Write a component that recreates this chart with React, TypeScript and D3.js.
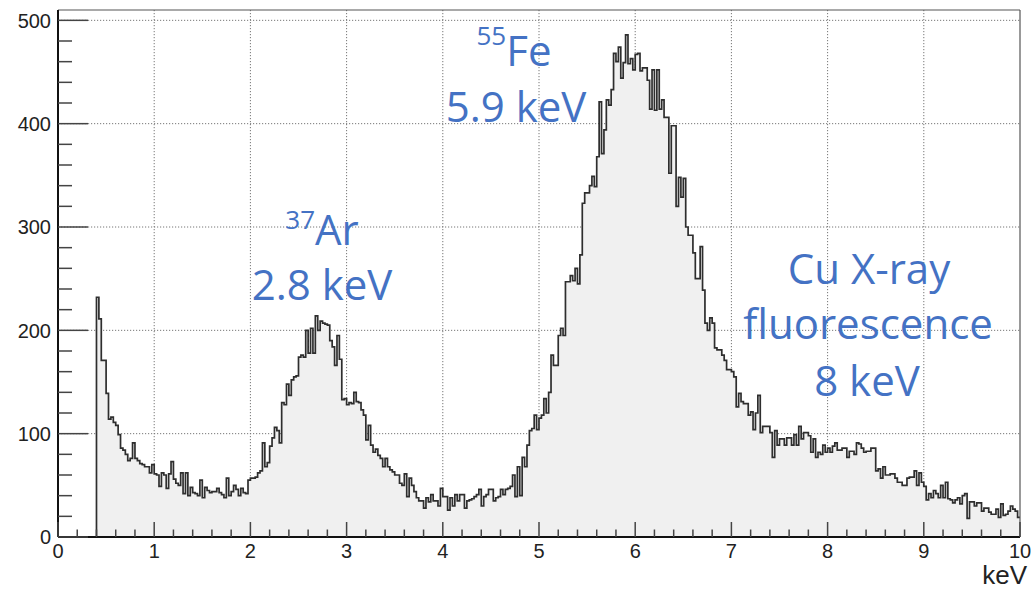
import React from 'react';
import * as d3 from 'd3';

// Histogram: bins of 0.025 keV starting at 0.4 keV
const binStart = 0.4;
const binWidth = 0.025;

const counts04to1 = [232, 211, 171, 171, 139, 114, 116, 111, 108, 99, 86, 84, 80, 74, 76, 91, 76, 74, 71, 70, 68, 68, 62, 70];
const counts1to2 = [61, 60, 49, 62, 60, 47, 61, 73, 56, 52, 50, 62, 42, 62, 40, 48, 43, 42, 40, 55, 38, 48, 45, 43, 44, 44, 47, 43, 41, 38, 57, 40, 44, 50, 46, 40, 47, 43, 42, 55];
const counts2to3 = [57, 57, 58, 62, 64, 91, 68, 72, 88, 96, 106, 103, 91, 130, 128, 148, 137, 152, 155, 156, 174, 176, 174, 200, 178, 202, 178, 214, 200, 209, 207, 206, 205, 190, 184, 166, 195, 172, 133, 134];
const counts3to4 = [128, 130, 129, 140, 131, 130, 123, 118, 94, 108, 89, 82, 85, 79, 76, 68, 76, 68, 65, 63, 60, 60, 52, 50, 61, 39, 57, 50, 44, 38, 35, 35, 28, 38, 34, 41, 35, 35, 30, 47];
const counts4to5 = [39, 39, 26, 38, 30, 41, 35, 41, 41, 28, 35, 36, 37, 39, 41, 46, 30, 39, 41, 46, 46, 35, 38, 39, 46, 41, 46, 47, 49, 60, 39, 68, 40, 77, 68, 89, 103, 105, 118, 104];
const counts5to6 = [115, 118, 134, 120, 140, 176, 166, 166, 195, 202, 195, 247, 247, 253, 248, 260, 245, 273, 323, 333, 333, 340, 349, 339, 368, 421, 371, 394, 423, 418, 433, 468, 460, 474, 444, 459, 486, 458, 463, 452];
const counts6to7 = [467, 468, 451, 454, 454, 442, 414, 452, 413, 452, 414, 423, 406, 406, 352, 398, 398, 320, 348, 329, 347, 300, 292, 292, 275, 250, 250, 281, 239, 207, 200, 212, 207, 183, 181, 181, 176, 171, 162, 162];
const counts7to8 = [160, 155, 126, 139, 131, 129, 129, 118, 121, 104, 120, 137, 101, 107, 107, 107, 101, 77, 103, 89, 95, 95, 89, 96, 96, 89, 99, 89, 107, 95, 101, 101, 98, 82, 95, 77, 82, 80, 89, 82];
const counts8to9 = [86, 82, 88, 91, 84, 84, 86, 86, 77, 83, 83, 80, 91, 90, 86, 82, 83, 83, 86, 86, 64, 66, 57, 68, 60, 60, 61, 61, 57, 53, 53, 50, 50, 57, 58, 58, 64, 50, 62, 53];
const counts9to10 = [49, 36, 42, 38, 45, 42, 38, 50, 38, 53, 37, 36, 33, 36, 38, 32, 40, 42, 18, 34, 34, 30, 33, 33, 25, 28, 28, 24, 22, 22, 27, 19, 32, 21, 22, 25, 30, 27, 25, 19];

const xMajorTicks = [0, 1, 2, 3, 4, 5, 6, 7, 8, 9, 10];
const yMajorTicks = [0, 100, 200, 300, 400, 500];
const xTitle = 'keV';

const blue = '#4472C4';
const annFont = '"Open Sans", "Noto Sans", sans-serif';
const axisFont = '"Liberation Sans", Arial, sans-serif';

export default function App() {
  const W = 1033;
  const H = 589;
  const x = d3.scaleLinear().domain([0, 10]).range([58, 1020]);
  const y = d3.scaleLinear().domain([0, 510]).range([537, 10]);

  const counts = [
    ...counts04to1, ...counts1to2, ...counts2to3, ...counts3to4, ...counts4to5,
    ...counts5to6, ...counts6to7, ...counts7to8, ...counts8to9, ...counts9to10,
  ];
  const pts: [number, number][] = counts.map((c, i) => [binStart + i * binWidth, c]);
  pts.push([binStart + counts.length * binWidth, counts[counts.length - 1]]);
  const linePts: [number, number][] = [[binStart, 0], ...pts];

  const line = d3.line<[number, number]>()
    .x(d => x(d[0]))
    .y(d => y(d[1]))
    .curve(d3.curveStepAfter);
  const area = d3.area<[number, number]>()
    .x(d => x(d[0]))
    .y0(y(0))
    .y1(d => y(d[1]))
    .curve(d3.curveStepAfter);

  const xMinor = d3.range(0, 10.001, 0.2).filter(v => Math.abs(v - Math.round(v)) > 1e-6);
  const yMinor = d3.range(0, 510, 20).filter(v => v % 100 !== 0);

  const [x0, x1] = x.range();
  const [yb, yt] = y.range();

  return (
    <svg width={W} height={H} style={{ position: 'absolute', left: 0, top: 0, background: '#fff' }}>
      {/* grid */}
      <g stroke="#777" strokeWidth={1} strokeDasharray="1.2,1.8">
        {xMajorTicks.slice(1, -1).map(t => (
          <line key={'gx' + t} x1={x(t)} x2={x(t)} y1={yt} y2={yb} />
        ))}
        {yMajorTicks.slice(1).map(t => (
          <line key={'gy' + t} x1={x0} x2={x1} y1={y(t)} y2={y(t)} />
        ))}
      </g>

      {/* histogram */}
      <path d={area(pts) || ''} fill="#f0f0f0" />
      <path d={line(linePts) || ''} fill="none" stroke="#2e2e2e" strokeWidth={1.7} />

      {/* frame */}
      <line x1={x0} x2={x1} y1={yt} y2={yt} stroke="#555" strokeWidth={1.2} />
      <line x1={x1} x2={x1} y1={yt} y2={yb} stroke="#555" strokeWidth={1.2} />
      <line x1={x0} x2={x0} y1={yt} y2={yb} stroke="#111" strokeWidth={2} />
      <line x1={x0} x2={x1} y1={yb} y2={yb} stroke="#111" strokeWidth={2} />

      {/* x ticks */}
      <g stroke="#444" strokeWidth={1.5}>
        {xMajorTicks.map(t => (
          <line key={'xt' + t} x1={x(t)} x2={x(t)} y1={yb} y2={yb - 15} />
        ))}
        {xMinor.map(t => (
          <line key={'xm' + t} x1={x(t)} x2={x(t)} y1={yb} y2={yb - 7.5} />
        ))}
      </g>
      {/* y ticks */}
      <g stroke="#444" strokeWidth={1.5}>
        {yMajorTicks.map(t => (
          <line key={'yt' + t} x1={x0} x2={x0 + 30} y1={y(t)} y2={y(t)} />
        ))}
        {yMinor.map(t => (
          <line key={'ym' + t} x1={x0} x2={x0 + 14} y1={y(t)} y2={y(t)} />
        ))}
      </g>

      {/* tick labels */}
      <g fontFamily={axisFont} fontSize={20} fill="#222">
        {xMajorTicks.map(t => (
          <text key={'xl' + t} x={x(t)} y={558} textAnchor="middle">{t}</text>
        ))}
        {yMajorTicks.map(t => (
          <text key={'yl' + t} x={51} y={y(t)} dy="0.36em" textAnchor="end">{t}</text>
        ))}
        <text x={1027} y={584} fontSize={26} textAnchor="end">{xTitle}</text>
      </g>

      {/* annotations */}
      <g fontFamily={annFont} fontSize={42} fill={blue} textAnchor="middle">
        <text x={514} y={66}>
          <tspan fontSize={26} dy={-21}>55</tspan>
          <tspan dy={21}>Fe</tspan>
        </text>
        <text x={516} y={122}>5.9 keV</text>
        <text x={322} y={245}>
          <tspan fontSize={26} dy={-16}>37</tspan>
          <tspan dy={16}>Ar</tspan>
        </text>
        <text x={322} y={300}>2.8 keV</text>
        <text x={869} y={284}>Cu X-ray</text>
        <text x={868} y={339}>fluorescence</text>
        <text x={867} y={396}>8 keV</text>
      </g>
    </svg>
  );
}
